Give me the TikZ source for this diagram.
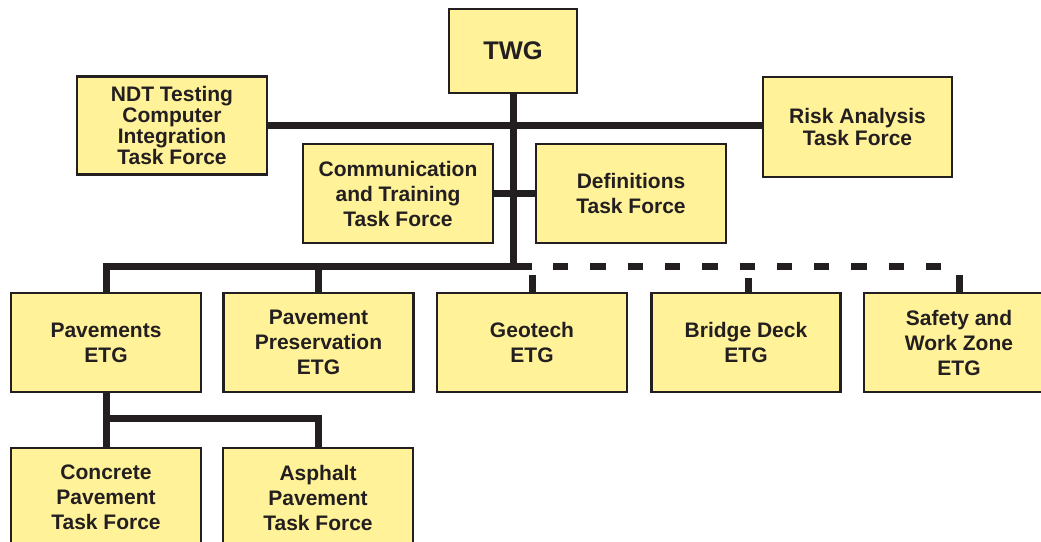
\documentclass[tikz,border=0pt]{standalone}
\usepackage{fontspec}
\setmainfont{Liberation Sans}
\usetikzlibrary{backgrounds,calc}
\definecolor{boxfill}{RGB}{255,242,153}
\definecolor{ink}{RGB}{35,31,32}
\begin{document}
\begin{tikzpicture}[x=1pt,y=-1pt,
  box/.style={draw=ink, line width=2.2pt, fill=boxfill, minimum width=190pt, minimum height=99pt,
    inner sep=0pt, align=center, text=ink, font=\bfseries\fontsize{21}{25}\selectfont},
  link/.style={draw=ink, line width=7pt}]
\useasboundingbox (0,0) rectangle (1041,541);
% top
\node[box, minimum width=128pt, minimum height=84pt, font=\bfseries\fontsize{25.5}{30}\selectfont] (twg) at (513,51) {TWG};
\node[box, minimum height=98pt, font=\bfseries\fontsize{21}{21}\selectfont] (ndt) at (172,125.5) {NDT Testing\\Computer\\Integration\\Task Force};
\node[box, minimum width=189pt, minimum height=100pt, font=\bfseries\fontsize{21}{22}\selectfont] (risk) at (857.5,127) {Risk Analysis\\Task Force};
\node[box] (comm) at (398,193.5) {Communication\\and Training\\Task Force};
\node[box] (def) at (631,193.5) {Definitions\\Task Force};
% ETG row
\node[box] (pav) at (106,342.5) {Pavements\\ETG};
\node[box] (pp) at (318.5,342.5) {Pavement\\Preservation\\ETG};
\node[box] (geo) at (532,342.5) {Geotech\\ETG};
\node[box, minimum width=189pt] (bridge) at (746,342.5) {Bridge Deck\\ETG};
\node[box] (safety) at (959,342.5) {Safety and\\Work Zone\\ETG};
% bottom row
\node[box] (conc) at (106,497.5) {Concrete\\Pavement\\Task Force};
\node[box] (asph) at (318,497.5) {Asphalt\\Pavement\\Task Force};
% connectors
\begin{pgfonlayer}{background}
\coordinate (bus) at (513,266);
\coordinate (sub) at (106,418);
\draw[link] (twg.south) -- ($(bus)+(0,3.5)$);
\draw[link] (ndt.east) -- (ndt.east -| risk.west);
\draw[link] (comm.east) -- (def.west);
\draw[link, line join=miter] (pav.north) -- (pav.north |- bus) -- (geo.north |- bus);
\draw[link] (pp.north) -- (pp.north |- bus);
\draw[link, dash pattern=on 15.3pt off 22pt] ($(geo.north |- bus)+(21,0)$) -- (safety.north |- bus);
\draw[link] (geo.north) -- ++(0,-17);
\draw[link] (bridge.north) ++(2,0) -- ++(0,-14);
\draw[link] (safety.north) -- ++(0,-17);
\draw[link] (pav.south) -- (conc.north);
\draw[link, line join=miter] (pav.south |- sub) -- (asph.north |- sub) -- (asph.north);
\end{pgfonlayer}
\end{tikzpicture}
\end{document}
